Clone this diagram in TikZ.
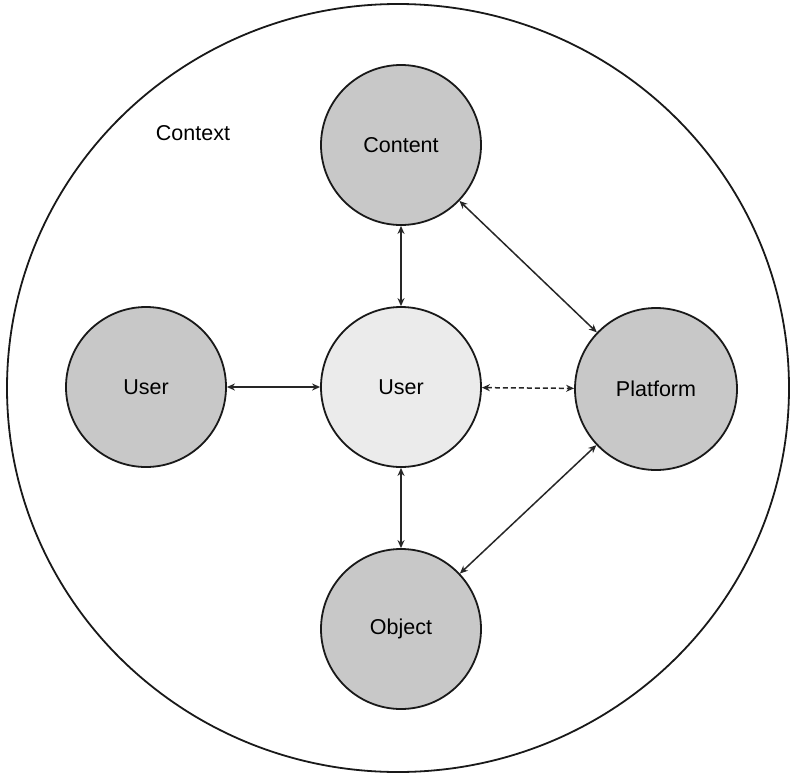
\documentclass[tikz,border=0pt]{standalone}
\usepackage{fontspec}
\setmainfont{Liberation Sans}
\usetikzlibrary{arrows.meta}
\definecolor{outerfill}{HTML}{C8C8C8}
\definecolor{innerfill}{HTML}{EBEBEB}
\begin{document}
\begin{tikzpicture}[x=1pt,y=-1pt,
  entity/.style={circle, draw=black!90, line width=1.8pt, minimum size=160pt, inner sep=0pt, fill=outerfill, font=\fontsize{21.5}{25}\selectfont},
  link/.style={{Stealth[length=8pt,width=7pt]}-{Stealth[length=8pt,width=7pt]}, line width=1.5pt, draw=black!85},
  lbl/.style={font=\fontsize{21.5}{25}\selectfont}]
\useasboundingbox (0,0) rectangle (790,774);
\draw[line width=1.8pt, draw=black!90] (398,388) ellipse [x radius=391, y radius=384];
\node[lbl] (ctx) at (193,133) {Context};
\node[entity] (content) at (401,145) {Content};
\node[entity] (userl) at (146,387) {User};
\node[entity, fill=innerfill] (userc) at (401,387) {User};
\node[entity, minimum size=162pt] (platform) at (656,389) {Platform};
\node[entity] (object) at (401,629) {Object};
\draw[link] (userc) -- (content);
\draw[link] (userc) -- (object);
\draw[link] (userl) -- (userc);
\draw[link, dash pattern=on 5pt off 3pt] (userc) -- (platform);
\draw[link] (content) -- (platform);
\draw[link] (object) -- (platform);
\end{tikzpicture}
\end{document}
